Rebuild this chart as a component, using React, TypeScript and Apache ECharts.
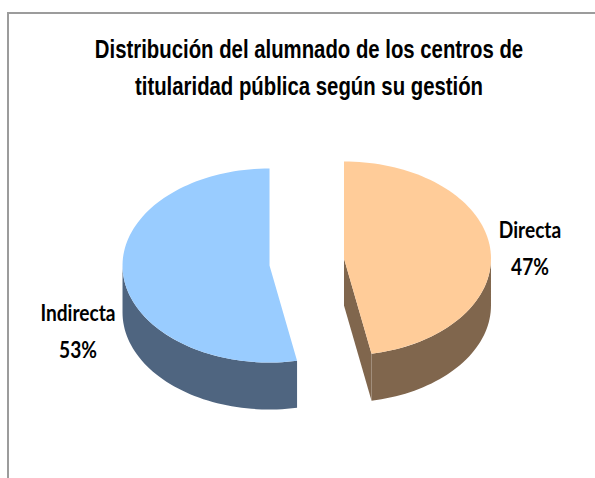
import React, { useEffect, useRef } from "react";
import * as echarts from "echarts";

const categories = ["Directa", "Indirecta"];
const shares = [47, 53];
const titleLines = ["Distribución del alumnado de los centros de", "titularidad pública según su gestión"];

const topColors = ["#FFCC99", "#99CCFF"];
const sideColors = ["#80664D", "#4F6580"];
const labelAnchors = [
  { x: 530, y: 248 },
  { x: 78, y: 331 },
];

const CX = 306.75;
const CY = 262;
const RX = 147;
const RY = 97;
const DEPTH = 47;
const EXPLODE = 37.4;
const STEP = 2;

function arcPoints(cx: number, cy: number, from: number, to: number) {
  const pts: number[][] = [];
  const n = Math.max(1, Math.ceil((to - from) / STEP));
  for (let i = 0; i <= n; i++) {
    const a = ((from + ((to - from) * i) / n) * Math.PI) / 180;
    pts.push([cx + RX * Math.sin(a), cy - RY * Math.cos(a)]);
  }
  return pts;
}

export default function App() {
  const ref = useRef<HTMLDivElement>(null);
  useEffect(() => {
    document.body.style.margin = "0";
    const chart = echarts.init(ref.current!, undefined, { renderer: "svg" });
    const total = shares.reduce((s, v) => s + v, 0);

    const renderItem = (params: any, api: any) => {
      const i = params.dataIndex;
      const value = api.value(0);
      const before = shares.slice(0, i).reduce((s, v) => s + v, 0);
      const start = (before / total) * 360;
      const end = start + (value / total) * 360;
      const mid = ((start + end) / 2) * (Math.PI / 180);
      const cx = CX + EXPLODE * Math.sin(mid);
      const cy = CY - EXPLODE * Math.cos(mid);
      const children: any[] = [];

      // cut faces: an edge shows only when its outward normal points at the viewer
      [start, end].forEach((edge, k) => {
        const a = (edge * Math.PI) / 180;
        const px = cx + RX * Math.sin(a);
        const py = cy - RY * Math.cos(a);
        const facing = k === 1 ? Math.sin(a) > 0.01 : Math.sin(a) < -0.01;
        if (facing) {
          children.push({
            type: "polygon",
            shape: { points: [[cx, cy], [px, py], [px, py + DEPTH], [cx, cy + DEPTH]] },
            style: { fill: sideColors[i] },
          });
        }
      });

      // outer wall: the part of the arc on the front half of the ellipse
      const wallFrom = Math.max(start, 90);
      const wallTo = Math.min(end, 270);
      if (wallTo > wallFrom) {
        const front = arcPoints(cx, cy, wallFrom, wallTo);
        const back = front.map((p) => [p[0], p[1] + DEPTH]).reverse();
        children.push({
          type: "polygon",
          shape: { points: [...front, ...back] },
          style: { fill: sideColors[i] },
        });
      }

      // top face
      children.push({
        type: "polygon",
        shape: { points: [[cx, cy], ...arcPoints(cx, cy, start, end)] },
        style: { fill: topColors[i] },
      });

      // label
      children.push({
        type: "text",
        x: labelAnchors[i].x,
        y: labelAnchors[i].y,
        scaleX: 0.87,
        style: {
          text: `${categories[i]}\n${value}%`,
          fill: "#000000",
          font: "bold 22px Lato",
          lineHeight: 37,
          align: "center",
          verticalAlign: "middle",
        },
      });

      return { type: "group", children };
    };

    chart.setOption({
      animation: false,
      backgroundColor: "#ffffff",
      graphic: [
        {
          type: "polyline",
          shape: { points: [[8, 478], [8, 13], [595, 13]] },
          style: { stroke: "#9c9c9c", lineWidth: 2, fill: "none" },
        },
        ...titleLines.map((line, k) => ({
          type: "text",
          x: 309,
          y: 49 + k * 37,
          scaleX: 0.814,
          style: {
            text: line,
            fill: "#000000",
            font: 'bold 25px "Liberation Sans"',
            align: "center",
            verticalAlign: "middle",
          },
        })),
      ],
      series: [
        {
          type: "custom",
          coordinateSystem: "none",
          renderItem,
          data: categories.map((name, i) => ({ name, value: [shares[i]] })),
        },
      ],
    });
    return () => chart.dispose();
  }, []);
  return <div ref={ref} style={{ position: "absolute", left: 0, top: 0, width: 595, height: 478 }} />;
}
